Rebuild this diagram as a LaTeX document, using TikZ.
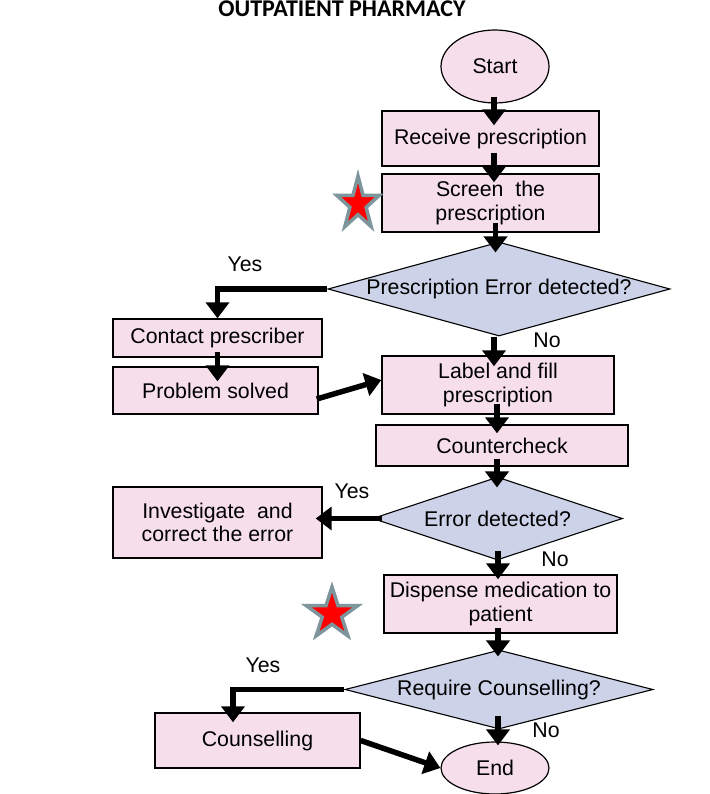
\documentclass[tikz,border=0pt]{standalone}
\usepackage{fontspec}
\setmainfont{Liberation Sans}
\newfontfamily\titlefont{Carlito}
\usetikzlibrary{shapes.geometric,arrows.meta}
\definecolor{boxpink}{RGB}{246,222,235}
\definecolor{diafill}{RGB}{204,210,232}
\definecolor{starline}{RGB}{125,150,156}
\begin{document}
\begin{tikzpicture}[x=1pt,y=-1pt,
  every node/.style={font=\fontsize{21.3}{23.5}\selectfont, inner sep=0pt},
  pbox/.style={draw=black, line width=1.4pt, fill=boxpink, rectangle, align=center},
  oval/.style={draw=black, line width=1.2pt, fill=boxpink, ellipse},
  dia/.style={draw=black, line width=1.1pt, fill=diafill, diamond},
  arr/.style={line width=5.5pt, -{Triangle[width=23pt,length=16pt]}},
  lbl/.style={anchor=base},
  redstar/.style={star, star points=5, star point ratio=2.618, fill=red, draw=starline, line width=3.5pt}
]
\useasboundingbox (0,0) rectangle (709,794);

\node[font=\titlefont\bfseries\fontsize{24}{26}\selectfont, anchor=base] (title) at (342,17) {OUTPATIENT PHARMACY};

\node[oval, minimum width=108pt, minimum height=73pt] (start) at (495,66.5) {Start};
\node[pbox, minimum width=217pt, minimum height=55pt] (rec) at (490.5,138.5) {Receive prescription};
\node[pbox, minimum width=217pt, minimum height=58pt] (scr) at (490.5,203) {Screen\ \ the\\prescription};
\node[dia, minimum width=342pt, minimum height=94pt, aspect=3.64] (d1) at (499,289) {Prescription Error detected?};
\node[pbox, minimum width=209pt, minimum height=38pt] (cp) at (217.5,338) {Contact prescriber};
\node[pbox, minimum width=205pt, minimum height=47pt] (ps) at (215.5,390.5) {Problem solved};
\node[pbox, minimum width=232pt, minimum height=58pt] (lab) at (498,385) {Label and fill\\prescription};
\node[pbox, minimum width=252pt, minimum height=41pt] (cc) at (502,445.5) {Countercheck};
\node[dia, minimum width=250pt, minimum height=83pt, aspect=3.01] (d2) at (497.5,518.5) {Error detected?};
\node[pbox, minimum width=209pt, minimum height=71pt] (inv) at (217.5,522.5) {Investigate\ \ and\\correct the error};
\node[pbox, minimum width=233pt, minimum height=58pt] (disp) at (500.5,604) {Dispense medication to\\patient};
\node[dia, minimum width=308pt, minimum height=79pt, aspect=3.85] (d3) at (499,689.5) {Require Counselling?};
\node[pbox, minimum width=205pt, minimum height=55pt] (cou) at (257.5,740.5) {Counselling};
\node[oval, minimum width=108pt, minimum height=52pt] (end) at (495,768) {End};

\node[redstar, minimum size=56pt, xscale=0.8] (star1) at (358,204) {};
\node[redstar, minimum size=54pt] (star2) at (332,614) {};

\node[lbl] (y1) at (245,271) {Yes};
\node[lbl] (n1) at (547,347) {No};
\node[lbl] (y2) at (352,498) {Yes};
\node[lbl] (n2) at (555,566) {No};
\node[lbl] (y3) at (263,672) {Yes};
\node[lbl] (n3) at (546,737) {No};

% main column
\draw[arr] ([xshift=-1pt,yshift=7pt]start.south) -- ([xshift=-1pt,yshift=-15pt]start.south |- rec.north);
\draw[arr] ([xshift=3.5pt,yshift=14pt]rec.south) -- ([xshift=3.5pt,yshift=-9pt]rec.south |- scr.north);
\draw[arr] ([xshift=5pt,yshift=10pt]scr.south) -- ([xshift=5pt,yshift=-11pt]scr.south |- d1.north);
\draw[arr] ([xshift=-5pt]d1.south) -- ([xshift=-5pt,yshift=-11pt]d1.south |- lab.north);
\draw[arr] ([xshift=-1pt,yshift=11pt]lab.south) -- ([xshift=-1pt,yshift=-9pt]lab.south |- cc.north);
\draw[arr] ([xshift=-5pt,yshift=8pt]cc.south) -- ([xshift=-5pt,yshift=-11pt]cc.south |- d2.north);
\draw[arr] ([xshift=0.5pt,yshift=10pt]d2.south) -- ([xshift=0.5pt,yshift=-5pt]d2.south |- disp.north);
\draw[arr] ([xshift=-2.5pt,yshift=6pt]disp.south) -- ([xshift=-2.5pt,yshift=-7pt]disp.south |- d3.north);
\draw[arr] ([xshift=-1pt,yshift=14pt]d3.south) -- ([xshift=-1pt,yshift=-4pt]d3.south |- end.north);

% side branches
\draw[arr] (d1.west) -| (cp.north);
\draw[arr] ([yshift=6pt]cp.south) -- ([yshift=-15pt]cp.south |- ps.north);
\draw[arr] ([xshift=-2pt,yshift=-8.5pt]ps.east) -- ([yshift=5pt]lab.west);
\draw[arr] ([xshift=10pt]d2.west) -- ([xshift=-7pt]inv.east |- d2.west);
\draw[arr] (d3.west) -| ([xshift=-24.5pt,yshift=-10pt]cou.north);
\draw[arr] (cou.east) -- (end.west);
\end{tikzpicture}
\end{document}
